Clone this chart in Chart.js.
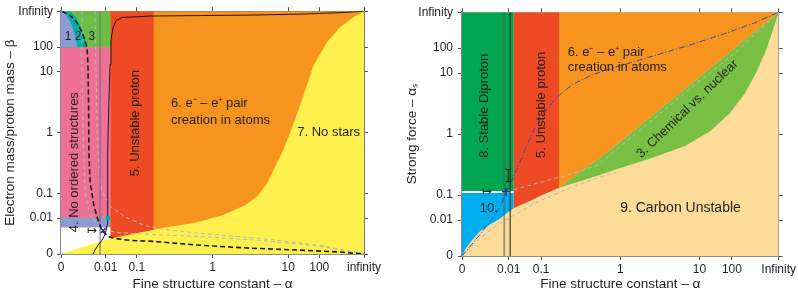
<!DOCTYPE html>
<html>
<head>
<meta charset="utf-8">
<script src="https://cdn.jsdelivr.net/npm/chart.js@4.4.1/dist/chart.umd.min.js"></script>
<style>
  html, body { margin: 0; padding: 0; background: #fff; }
  #wrap { display: flex; width: 798px; height: 295px; }
  canvas { display: block; }
</style>
</head>
<body>
<div id="wrap">
  <canvas id="leftChart" width="399" height="295"></canvas>
  <canvas id="rightChart" width="399" height="295"></canvas>
</div>
<script>
// Both axes of both panels run from 0 to infinity on a squashed log scale:
//   pos = 0.5 + atan(log10(v)) / pi    (0 -> 0, 1 -> 0.5, infinity -> 1)
// Region edges and curves are given as [alpha pos, beta/alpha_s pos].
const axisValues = [0, 0.01, 0.1, 1, 10, 100, Infinity];
const alphaLabelsLeft = ['0', '0.01', '0.1', '1', '10', '100', 'infinity'];
const alphaLabelsRight = ['0', '0.01', '0.1', '1', '10', '100', 'Infinity'];
const yTickLabels = ['0', '0.01', '0.1', '1', '10', '100', 'Infinity'];

// ---- left panel: alpha vs beta ----
const allPlane = [[0, 0], [1, 0], [1, 1], [0, 1]];
const unstableProtonL = [[0.163, 0], [0.3057, 0], [0.3057, 1], [0.163, 1]];
const region3L = [[0, 0.852], [0.163, 0.852], [0.163, 1], [0, 1]];
const noOrdered = [[0, 0.15], [0.163, 0.15], [0.163, 0.852], [0, 0.852]];
const lilacStrip = [[0, 0.109], [0.163, 0.109], [0.163, 0.15], [0, 0.15]];
const whiteGap = [[0, 0], [0.163, 0], [0.163, 0.109], [0, 0.109]];
const region2 = [[0, 1], [0.030, 1], [0.050, 0.974], [0.063, 0.942], [0.076, 0.901], [0.083, 0.869], [0.086, 0.852], [0, 0.852]];
const region1 = [[0, 1], [0.010, 1], [0.023, 0.974], [0.036, 0.942], [0.046, 0.901], [0.051, 0.869], [0.053, 0.852], [0, 0.852]];
const noStars = [[0, 0], [0.162, 0.064], [0.343, 0.109], [0.442, 0.129], [0.535, 0.161], [0.607, 0.201], [0.647, 0.237],
  [0.680, 0.290], [0.706, 0.358], [0.733, 0.427], [0.756, 0.499], [0.779, 0.579], [0.799, 0.648], [0.832, 0.773],
  [0.878, 0.873], [0.921, 0.934], [0.964, 0.974], [1, 1], [1, 0]];
const blackDashed = [[0.003, 1], [0.030, 0.982], [0.050, 0.958], [0.066, 0.922], [0.079, 0.881], [0.086, 0.849],
  [0.089, 0.781], [0.091, 0.620], [0.092, 0.419], [0.096, 0.298], [0.109, 0.197], [0.125, 0.129], [0.135, 0.097],
  [0.155, 0.072], [0.178, 0.064], [0.228, 0.056], [0.304, 0.052], [0.459, 0.036], [0.624, 0.024], [0.789, 0.016],
  [0.921, 0.008], [1, 0]];
const blackSolid = [[0.106, 0], [0.112, 0.016], [0.122, 0.036], [0.135, 0.056], [0.145, 0.080], [0.152, 0.117],
  [0.153, 0.217], [0.155, 0.419], [0.158, 0.620], [0.162, 0.781], [0.165, 0.881], [0.172, 0.934], [0.182, 0.962],
  [0.201, 0.974], [0.294, 0.980], [0.459, 0.982], [0.624, 0.984], [0.789, 0.988], [0.921, 0.994], [1, 1]];
const grayDashed1L = [[0.069, 1], [0.069, 0.781], [0.073, 0.499], [0.079, 0.258], [0.096, 0.157], [0.129, 0.113],
  [0.178, 0.089], [0.304, 0.080], [0.459, 0.072], [0.657, 0.056], [0.855, 0.032], [1, 0]];
const grayDashed2L = [[0.112, 1], [0.116, 0.700], [0.122, 0.419], [0.135, 0.258], [0.162, 0.197], [0.211, 0.153],
  [0.277, 0.117], [0.343, 0.101], [0.459, 0.085], [0.657, 0.064], [0.855, 0.036], [1, 0]];
const ourAlphaL = [[0.129, 0], [0.129, 1]];
const ourPointL = [0.139, 0.097];
const cornerMarkL = [0.155, 0.149];

// ---- right panel: alpha vs alpha_s ----
const orangeR = [[0.3065, 0.28], [0.381, 0.352], [0.458, 0.424], [0.582, 0.556], [0.737, 0.72], [0.861, 0.852], [1, 1], [0.3065, 1]];
const chemUpper = [[0.3065, 0.28], [0.381, 0.352], [0.458, 0.424], [0.582, 0.556], [0.737, 0.72], [0.861, 0.852], [1, 1]];
const chemLower = [[0.3065, 0.28], [0.396, 0.316], [0.498, 0.360], [0.604, 0.404], [0.706, 0.452], [0.783, 0.512],
  [0.845, 0.584], [0.892, 0.664], [0.929, 0.752], [0.960, 0.844], [0.981, 0.924], [1, 1]];
const unstableProtonR = [[0.163, 0.196], [0.211, 0.224], [0.257, 0.252], [0.3065, 0.28], [0.3065, 1], [0.163, 1]];
const region10 = [[0, 0], [0.012, 0.032], [0.031, 0.064], [0.056, 0.100], [0.087, 0.128], [0.118, 0.152],
  [0.142, 0.176], [0.163, 0.196], [0.163, 0.264], [0, 0.264]];
const diproton = [[0, 0.264], [0.163, 0.264], [0.163, 1], [0, 1]];
const diprotonEdge = [[0, 0.262], [0.163, 0.262]];
const pairLine = [[0, 0], [0.031, 0.048], [0.062, 0.096], [0.093, 0.148], [0.118, 0.196], [0.139, 0.256],
  [0.158, 0.312], [0.180, 0.376], [0.204, 0.452], [0.232, 0.528], [0.266, 0.600], [0.303, 0.656], [0.350, 0.704],
  [0.412, 0.744], [0.489, 0.776], [0.582, 0.812], [0.706, 0.860], [0.830, 0.912], [0.923, 0.956], [1, 1]];
const grayDashed1R = [[0.142, 0.264], [0.241, 0.300], [0.334, 0.332], [0.427, 0.372], [0.551, 0.504], [0.706, 0.672], [0.861, 0.832], [1, 1]];
const grayDashed2R = [[0, 0], [0.050, 0.064], [0.102, 0.120], [0.149, 0.156], [0.241, 0.224], [0.334, 0.276], [0.427, 0.320], [0.489, 0.344]];
const vertGrayR = [[0.133, 0], [0.133, 1]];
const vertBlackR = [[0.152, 0], [0.152, 1]];
const ourPointR = [0.139, 0.264];
const errBarR = [[0.146, 0.305], [0.146, 0.355]];

const FONT = "'Liberation Sans', Arial, Helvetica, sans-serif";
const TEXT = '#231f20';

const compact = v => v === Infinity ? 1 : v <= 0 ? 0 : 0.5 + Math.atan(Math.log10(v)) / Math.PI;
const toXY = pts => pts.map(([x, y]) => ({ x, y }));

function area(pts, color) {
    return { data: toXY(pts), fill: 'shape', backgroundColor: color, borderColor: color, borderWidth: 0, pointRadius: 0, tension: 0 };
}
function curve(pts, color, width, dash) {
    return { data: toXY(pts), fill: false, borderColor: color, borderWidth: width, borderDash: dash || [], pointRadius: 0, tension: 0 };
}
function marker(pt, style, color, r) {
    return { data: toXY([pt]), showLine: false, pointStyle: style, pointRadius: r, borderColor: color,
        backgroundColor: color, pointBorderWidth: 1.5 };
}
// later in the list = drawn on top
function stack(list) {
    list.forEach((d, i) => { d.order = list.length - i; });
    return list;
}

function textPlugin(items) {
    return {
        id: 'regionText',
        afterDatasetsDraw(chart) {
            const ctx = chart.ctx;
            const xs = chart.scales.x, ys = chart.scales.y;
            items.forEach(it => {
                ctx.save();
                ctx.translate(xs.getPixelForValue(it.u), ys.getPixelForValue(it.w));
                ctx.rotate((it.rot || 0) * Math.PI / 180);
                ctx.font = (it.size || 13) + 'px ' + FONT;
                ctx.fillStyle = TEXT;
                ctx.textAlign = it.align || 'center';
                ctx.textBaseline = 'middle';
                ctx.fillText(it.text, 0, 0);
                ctx.restore();
            });
        }
    };
}

function makeScales(o) {
    const tickFont = { family: FONT, size: 12 };
    const titleFont = { family: FONT, size: 13.5 };
    const ticksAt = scale => { scale.ticks = axisValues.map(v => ({ value: compact(v) })); };
    const grid = { drawOnChartArea: false, drawTicks: true, tickLength: 4, tickColor: '#555', color: '#555' };
    return {
        x: {
            type: 'linear', position: 'bottom', min: 0, max: 1, afterBuildTicks: ticksAt,
            ticks: { autoSkip: false, maxRotation: 0, padding: 2, color: TEXT, font: tickFont, callback: (v, i) => o.xLabels[i] },
            grid: grid, border: { color: '#8c8c8c', width: 2 },
            title: { display: true, text: 'Fine structure constant – α', color: TEXT, font: titleFont, padding: { top: 0, bottom: 3 } },
            afterFit: s => { s.height = o.bottom; }
        },
        y: {
            type: 'linear', position: 'left', min: 0, max: 1, afterBuildTicks: ticksAt,
            ticks: { autoSkip: false, padding: o.yPad, color: TEXT, font: tickFont, callback: (v, i) => yTickLabels[i] },
            grid: grid, border: { color: '#8c8c8c', width: 2 },
            title: { display: true, text: o.yTitle, color: TEXT, font: titleFont, padding: { top: o.titlePad, bottom: 0 } },
            afterFit: s => { s.width = o.left; }
        },
        x2: {
            type: 'linear', position: 'top', min: 0, max: 1, afterBuildTicks: ticksAt,
            ticks: { display: false }, grid: grid, border: { color: '#777', width: 1 },
            afterFit: s => { s.height = o.top; }
        },
        y2: {
            type: 'linear', position: 'right', min: 0, max: 1, afterBuildTicks: ticksAt,
            ticks: { display: false }, grid: grid, border: { color: '#777', width: 1 },
            afterFit: s => { s.width = o.right; }
        }
    };
}

const baseOptions = {
    responsive: false,
    animation: false,
    devicePixelRatio: 1,
    layout: { padding: 0 },
    plugins: { legend: { display: false }, tooltip: { enabled: false } }
};

const leftLabels = [
    { text: '1', u: 0.023, w: 0.897, size: 12 },
    { text: '2', u: 0.056, w: 0.897, size: 12 },
    { text: '3', u: 0.102, w: 0.897, size: 12 },
    { text: '4. No ordered structures', u: 0.043, w: 0.378, rot: -90 },
    { text: '5. Unstable proton', u: 0.244, w: 0.539, rot: -90 },
    { text: '6. e⁻ – e⁺ pair', u: 0.363, w: 0.620, align: 'left' },
    { text: 'creation in atoms', u: 0.363, w: 0.551, align: 'left' },
    { text: '7. No stars', u: 0.987, w: 0.499, align: 'right' },
    { text: '↦', u: 0.102, w: 0.097, size: 12 }
];

const rightLabels = [
    { text: '8. Stable Diproton', u: 0.071, w: 0.616, rot: -90 },
    { text: '5. Unstable proton', u: 0.251, w: 0.620, rot: -90 },
    { text: '6. e⁻ – e⁺ pair', u: 0.334, w: 0.836, align: 'left' },
    { text: 'creation in atoms', u: 0.334, w: 0.772, align: 'left' },
    { text: '3. Chemical vs. nuclear', u: 0.712, w: 0.603, rot: -44 },
    { text: '9. Carbon Unstable', u: 0.690, w: 0.196, size: 14 },
    { text: '10.', u: 0.056, w: 0.196, align: 'left' },
    { text: '↦', u: 0.080, w: 0.264, size: 12 }
];

new Chart(document.getElementById('leftChart'), {
    type: 'line',
    data: {
        datasets: stack([
            area(allPlane, '#f7941d'),
            area(unstableProtonL, '#ee4a24'),
            area(region3L, '#6bbd45'),
            area(noOrdered, '#ef7096'),
            area(lilacStrip, '#8d9bd3'),
            area(whiteGap, '#ffffff'),
            area(region2, '#00b0a4'),
            area(region1, '#8d9bd3'),
            area(noStars, '#fff04e'),
            curve(grayDashed1L, '#b9b9b9', 1, [4, 3]),
            curve(grayDashed2L, '#b9b9b9', 1, [4, 3]),
            curve(ourAlphaL, '#6d6d6d', 1),
            curve(blackSolid, '#1a1a1a', 1),
            curve(blackDashed, '#1a1a1a', 1.6, [5, 3]),
            marker(cornerMarkL, 'rect', '#00b0a4', 2),
            marker(ourPointL, 'crossRot', '#2e3192', 3.5)
        ])
    },
    options: Object.assign({}, baseOptions, {
        scales: makeScales({ xLabels: alphaLabelsLeft, yTitle: 'Electron mass/proton mass – β',
            left: 61, right: 35, top: 5, bottom: 41, yPad: 4, titlePad: 2 })
    }),
    plugins: [textPlugin(leftLabels)]
});

new Chart(document.getElementById('rightChart'), {
    type: 'line',
    data: {
        datasets: stack([
            area(allPlane, '#fddc9a'),
            area(orangeR, '#f7941d'),
            area(chemUpper.concat(chemLower.slice().reverse()), '#77c043'),
            area(unstableProtonR, '#ee4a24'),
            area(region10, '#00aeef'),
            area(diproton, '#00a651'),
            curve(diprotonEdge, '#ffffff', 2),
            curve(grayDashed1R, '#b9b9b9', 1, [4, 3]),
            curve(grayDashed2R, '#b9b9b9', 1, [4, 3]),
            curve(pairLine, '#3d4aa8', 1, [6, 2, 1, 2]),
            curve(vertGrayR, '#5a5a5a', 1),
            curve(vertBlackR, '#1a1a1a', 1),
            Object.assign(curve(errBarR, '#1a1a1a', 1), { pointRadius: 3, pointStyle: 'line', pointBorderColor: '#1a1a1a' }),
            marker(ourPointR, 'cross', '#2e3192', 4)
        ])
    },
    options: Object.assign({}, baseOptions, {
        scales: makeScales({ xLabels: alphaLabelsRight, yTitle: 'Strong force – αₛ',
            left: 63, right: 13, top: 6, bottom: 39, yPad: 5, titlePad: 5 })
    }),
    plugins: [textPlugin(rightLabels)]
});
</script>
</body>
</html>
